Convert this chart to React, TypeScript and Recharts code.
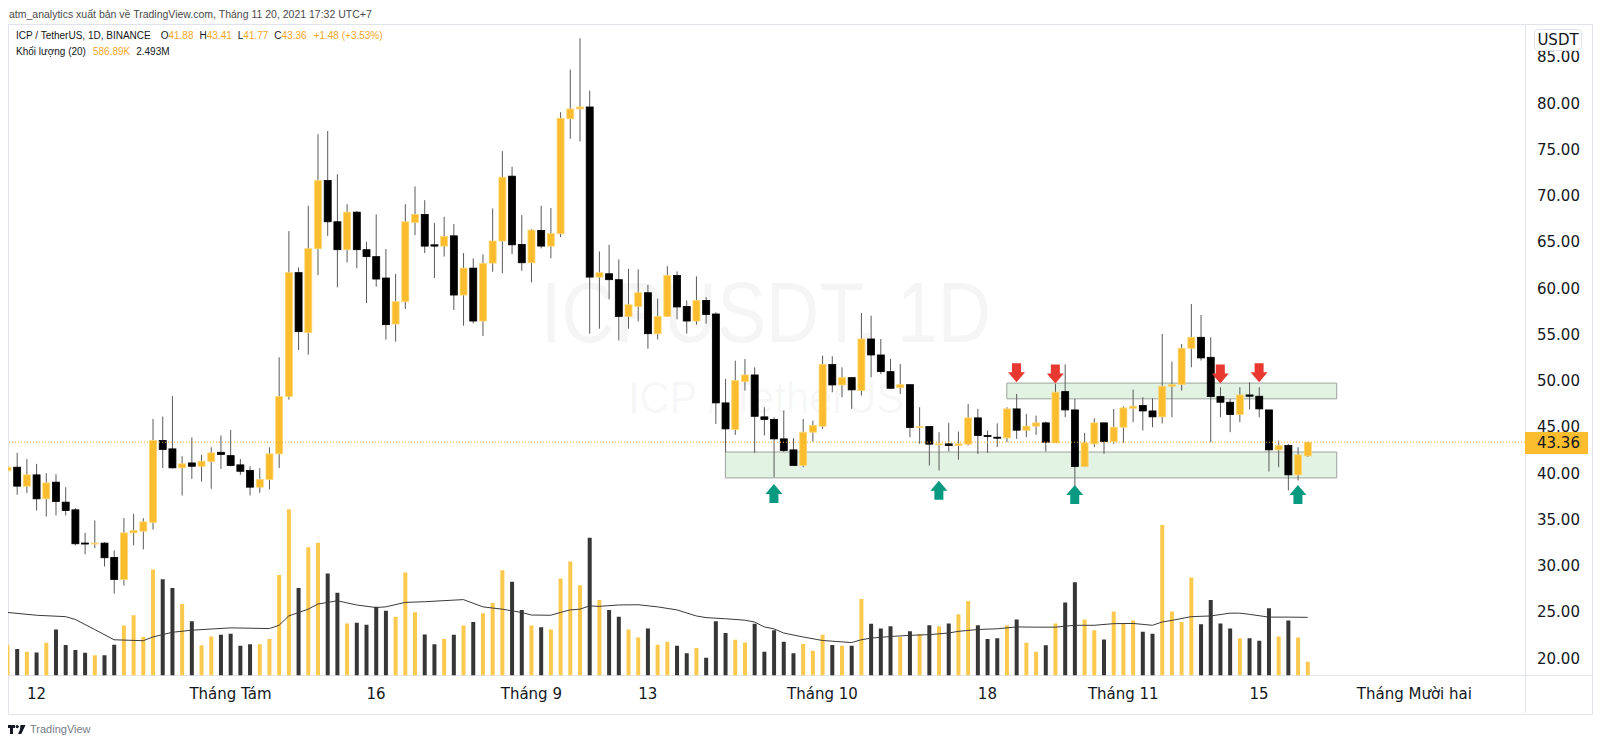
import React from 'react';
import { ComposedChart, Bar, Line, Scatter, XAxis, YAxis, ReferenceArea, ReferenceLine, Cell } from 'recharts';

// ICP / USDT daily candles, index 0 = 9 Jul 2021 ... index 134 = 20 Nov 2021
const opens = [
  40.27, 40.66, 38.61, 39.83, 37.24, 39.04, 36.88, 36.05, 32.46, 32.36,
  32.45, 30.9, 28.52, 33.56, 33.74, 34.7, 43.54, 42.64, 40.59, 41.12,
  40.76, 41.27, 42.27, 41.91, 40.91, 40.3, 38.5, 39.33, 42.1, 48.29,
  61.69, 55.2, 64.28, 71.65, 67.19, 64.17, 68.23, 64.17, 63.42, 61.11,
  56.14, 58.55, 67.12, 67.98, 64.7, 64.56, 65.67, 59.27, 62.18, 56.46,
  62.72, 65.11, 72.12, 64.74, 62.76, 66.26, 64.56, 65.89, 78.32, 79.39,
  79.6, 61.21, 61.57, 60.93, 56.96, 58.04, 59.52, 55.09, 56.96, 61.39,
  58.04, 56.46, 58.69, 57.22, 47.61, 44.73, 49.92, 50.63, 46.1, 45.81,
  43.72, 42.53, 40.84, 44.44, 45.09, 51.75, 49.55, 50.34, 48.94, 54.52,
  52.79, 50.99, 49.26, 49.58, 44.94, 45.05, 43.11, 43.18, 43.0, 43.15,
  45.99, 44.08, 43.9, 43.83, 46.96, 44.66, 45.09, 45.45, 43.29, 48.83,
  46.85, 40.73, 43.18, 45.45, 43.43, 44.98, 47.03, 47.32, 46.74, 46.1,
  49.41, 49.59, 53.51, 54.7, 52.54, 48.29, 47.68, 46.35, 48.47, 48.33,
  46.85, 42.53, 43.0, 39.83, 41.88,
];
const highs = [
  40.86, 42.21, 41.56, 41.02, 40.01, 39.9, 38.5, 36.23, 33.57, 34.9,
  32.56, 31.66, 35.15, 35.62, 35.15, 45.88, 46.13, 48.33, 41.85, 43.89,
  41.99, 42.81, 44.08, 44.69, 41.54, 40.76, 40.55, 42.81, 52.54, 66.18,
  62.25, 68.92, 76.66, 77.0, 72.33, 69.09, 68.34, 65.03, 67.98, 64.24,
  61.54, 69.09, 71.01, 69.53, 67.05, 67.72, 66.94, 63.81, 63.23, 63.66,
  68.63, 74.83, 73.13, 67.91, 66.39, 68.92, 68.68, 79.03, 83.64, 87.02,
  81.37, 63.98, 64.7, 63.12, 62.1, 62.04, 60.38, 58.87, 62.39, 61.82,
  58.69, 61.29, 59.05, 57.4, 50.2, 52.18, 52.36, 51.46, 47.14, 46.06,
  46.78, 43.79, 45.88, 45.7, 52.72, 52.65, 51.46, 50.34, 57.33, 57.04,
  54.52, 52.36, 51.82, 49.58, 47.14, 45.1, 44.44, 45.45, 44.51, 47.5,
  46.96, 44.62, 45.4, 47.14, 48.58, 46.42, 46.24, 45.59, 49.66, 51.78,
  48.04, 44.37, 45.95, 45.5, 46.96, 47.25, 49.05, 48.22, 48.11, 55.06,
  52.07, 53.98, 58.3, 57.11, 54.7, 49.3, 48.04, 49.3, 49.84, 49.3,
  46.85, 43.54, 43.18, 42.82, 43.41,
];
const lows = [
  40.08, 37.67, 37.85, 35.97, 35.33, 35.44, 35.44, 32.2, 31.23, 31.91,
  29.92, 26.98, 27.87, 32.2, 31.77, 33.92, 40.56, 40.52, 37.6, 39.39,
  39.1, 38.32, 40.47, 40.76, 39.83, 37.6, 37.89, 38.25, 40.56, 47.97,
  53.33, 52.83, 61.43, 65.67, 60.1, 62.8, 62.16, 58.4, 60.17, 54.45,
  54.23, 57.76, 65.75, 63.81, 61.11, 63.43, 57.65, 55.96, 56.2, 54.84,
  61.79, 61.62, 63.7, 61.9, 60.64, 64.31, 63.23, 65.53, 76.16, 75.86,
  55.09, 55.63, 58.8, 54.37, 55.63, 56.42, 53.47, 54.48, 56.89, 56.64,
  55.09, 56.06, 56.17, 45.34, 42.28, 44.15, 48.94, 42.21, 44.08, 39.58,
  42.28, 40.84, 40.66, 43.43, 44.8, 48.76, 48.21, 46.96, 48.4, 50.38,
  50.74, 49.12, 48.58, 43.9, 43.18, 40.84, 40.3, 42.35, 41.46, 43.0,
  42.1, 42.21, 42.85, 43.36, 43.72, 43.9, 44.15, 42.35, 43.29, 46.06,
  38.32, 40.66, 42.82, 42.1, 43.18, 43.29, 45.52, 44.62, 44.98, 45.38,
  46.06, 48.94, 51.46, 52.18, 43.36, 46.06, 44.44, 45.52, 46.89, 46.06,
  40.19, 40.66, 38.14, 39.22, 41.77,
];
const closes = [
  40.66, 38.61, 39.83, 37.24, 38.96, 36.95, 35.97, 32.38, 32.36, 32.46,
  30.87, 28.52, 33.56, 33.81, 34.75, 43.54, 42.57, 40.59, 41.02, 40.76,
  41.31, 42.21, 42.03, 40.84, 40.22, 38.5, 39.33, 42.1, 48.29, 61.69,
  55.31, 64.28, 71.65, 67.19, 64.17, 68.23, 64.17, 63.42, 61.0, 56.07,
  58.55, 67.19, 67.98, 64.56, 64.56, 65.6, 59.27, 62.18, 56.46, 62.69,
  65.11, 72.01, 64.7, 62.76, 66.29, 64.56, 65.9, 78.38, 79.39, 79.6,
  61.21, 61.68, 60.93, 56.96, 58.22, 59.52, 55.09, 56.96, 61.39, 57.98,
  56.46, 58.69, 57.17, 47.61, 44.8, 50.02, 50.63, 46.16, 45.81, 43.72,
  42.46, 40.84, 44.44, 45.16, 51.78, 49.55, 50.34, 49.02, 54.52, 52.79,
  50.99, 49.19, 49.58, 44.94, 45.05, 43.15, 43.18, 43.0, 43.18, 45.99,
  44.08, 43.98, 43.82, 46.96, 44.66, 45.09, 45.45, 43.36, 48.76, 46.85,
  40.73, 43.29, 45.45, 43.43, 44.98, 47.07, 47.25, 46.74, 46.1, 49.41,
  49.59, 53.51, 54.7, 52.47, 48.29, 47.68, 46.35, 48.47, 48.33, 46.96,
  42.53, 43.0, 39.83, 41.99, 43.36,
];
// volume in millions
const volumes = [
  1.31, 1.14, 1.02, 0.99, 1.4, 1.97, 1.31, 1.09, 0.97, 0.87,
  0.87, 1.32, 2.14, 2.58, 1.65, 4.54, 4.12, 3.75, 3.06, 2.32,
  1.3, 1.67, 1.75, 1.79, 1.27, 1.34, 1.34, 1.56, 4.3, 7.12,
  3.75, 5.49, 5.68, 4.37, 3.54, 2.23, 2.26, 2.17, 2.94, 2.77,
  2.52, 4.41, 2.71, 1.76, 1.34, 1.56, 1.75, 2.14, 2.29, 2.67,
  3.1, 4.51, 4.01, 2.81, 2.14, 2.07, 1.97, 4.15, 4.88, 3.86,
  5.9, 3.23, 2.81, 2.52, 1.97, 1.63, 2.01, 1.32, 1.44, 1.27,
  0.95, 1.18, 0.76, 2.32, 1.82, 1.53, 1.41, 2.22, 1.02, 1.94,
  1.44, 0.95, 1.35, 1.06, 1.75, 1.31, 1.27, 1.27, 3.28, 2.22,
  2.01, 2.11, 1.65, 1.89, 1.78, 2.15, 2.11, 2.23, 2.62, 3.19,
  2.15, 1.56, 1.59, 2.14, 2.4, 1.4, 1.02, 1.3, 2.23, 3.13,
  3.99, 2.4, 1.94, 1.54, 2.74, 2.23, 2.36, 1.87, 1.79, 6.44,
  2.74, 2.29, 4.2, 2.2, 3.23, 2.23, 2.01, 1.6, 1.59, 1.49,
  2.88, 1.67, 2.36, 1.63, 0.587,
];
// volume MA(20) line
const maIdx = [
  0, 3, 6, 7, 9, 11, 14, 15, 17, 19, 23, 27, 28, 29, 31, 32, 34, 36, 38, 39,
  41, 43, 47, 49, 51, 53, 54, 56, 57, 58, 59, 60, 61, 63, 65, 67, 69, 71, 72, 74,
  76, 77, 78, 79, 80, 82, 84, 85, 87, 88, 89, 91, 93, 95, 97, 98, 100, 102, 104, 106,
  108, 109, 110, 112, 114, 116, 118, 119, 120, 122, 124, 126, 127, 128, 130, 132, 134,
];
const maVal = [
  2.7, 2.58, 2.52, 2.4, 1.97, 1.53, 1.49, 1.65, 1.85, 1.94, 2.04, 2.01, 2.15, 2.55, 2.84, 3.06, 3.2, 3.02, 2.91, 2.94,
  3.13, 3.16, 3.25, 2.94, 2.84, 2.7, 2.59, 2.58, 2.7, 2.81, 2.84, 2.98, 2.96, 3.02, 3.03, 2.94, 2.81, 2.55, 2.48, 2.43,
  2.37, 2.29, 2.08, 2.0, 1.82, 1.65, 1.5, 1.47, 1.41, 1.53, 1.6, 1.67, 1.72, 1.75, 1.82, 1.89, 1.97, 2.0, 2.08, 2.07,
  2.07, 2.11, 2.15, 2.15, 2.22, 2.23, 2.15, 2.29, 2.36, 2.52, 2.55, 2.67, 2.67, 2.62, 2.5, 2.5, 2.49,
];

const tickIdx = [3, 23, 38, 54, 66, 84, 101, 115, 129, 145];
const tickLabels = ['12', 'Tháng Tám', '16', 'Tháng 9', '13', 'Tháng 10', '18', 'Tháng 11', '15', 'Tháng Mười hai'];
const priceTicks = [20, 25, 30, 35, 40, 45, 50, 55, 60, 65, 70, 75, 80, 85];

// drawings
const supportIdx = [79, 96, 110, 133];
const supportTip = [38.85, 39.2, 38.73, 38.73];
const resistIdx = [104, 108, 125, 129];
const resistTip = [49.85, 49.7, 49.7, 49.85];
const lowerZone = { x1: 74, x2: 137, y1: 39.5, y2: 42.3 };
const upperZone = { x1: 103, x2: 137, y1: 48.05, y2: 49.75 };
const lastPrice = 43.36;

const maAt = new Map(maIdx.map((x, k) => [x, maVal[k]]));
const candles = opens.map((o, i) => ({
  i,
  o,
  h: highs[i],
  l: lows[i],
  c: closes[i],
  v: volumes[i],
  range: [lows[i], highs[i]],
  ma: maAt.has(i) ? maAt.get(i) : null,
}));
const supportData = supportIdx.map((i, k) => ({ i, tip: supportTip[k] }));
const resistData = resistIdx.map((i, k) => ({ i, tip: resistTip[k] }));

const UP = '#fbbd2d';
const AXIS_FONT = 'DejaVu Sans';
const UI_FONT = 'Liberation Sans, Arial, sans-serif';
const X_DOMAIN = [0.07, 156.4];

const Candle = (props: any) => {
  const { x, y, width, height, payload } = props;
  if (!payload) return null;
  const { o, h, l, c } = payload;
  const up = c >= o;
  const span = h - l || 1;
  const toY = (p: number) => y + ((h - p) / span) * height;
  const top = toY(Math.max(o, c));
  const bot = toY(Math.min(o, c));
  const cx = x + width / 2;
  return (
    <g>
      <line x1={cx} x2={cx} y1={y} y2={y + height} stroke="#5a5a5a" strokeWidth={1} />
      <rect
        x={x + 0.5}
        y={top}
        width={width - 1}
        height={Math.max(bot - top, 1)}
        fill={up ? UP : '#000'}
        stroke={up ? '#fcd675' : '#000'}
        strokeWidth={0.8}
      />
    </g>
  );
};

const arrowPoints = (cx: number, cy: number, dir: number) =>
  [[0, 0], [8.5, 10], [4.5, 10], [4.5, 19], [-4.5, 19], [-4.5, 10], [-8.5, 10]]
    .map(([dx, dy]) => `${cx + dx},${cy + dir * dy}`)
    .join(' ');

const UpArrow = (props: any) => <polygon points={arrowPoints(props.cx, props.cy, 1)} fill="#089981" />;
const DownArrow = (props: any) => <polygon points={arrowPoints(props.cx, props.cy, -1)} fill="#e8382f" />;

const TvLogo = () => (
  <svg width={18} height={11} viewBox="0 0 18 11">
    <path d="M0 1h7v3H5v6H2V4H0z" fill="#131722" />
    <circle cx={9.2} cy={2.6} r={1.6} fill="#131722" />
    <path d="M12.5 1h5l-4.2 9h-3.2l1.8-4.3z" fill="#131722" />
  </svg>
);

const App: React.FC = () => {
  const orange = { color: '#f5a623' };
  return (
    <div style={{ position: 'absolute', left: 0, top: 0, width: 1600, height: 744, background: '#fff', overflow: 'hidden' }}>
      {/* watermark */}
      <svg width={1600} height={744} style={{ position: 'absolute', left: 0, top: 0 }}>
        <text x={766} y={342} textAnchor="middle" fontFamily={UI_FONT} fontSize={86} textLength={450} lengthAdjust="spacingAndGlyphs" fill="rgba(19,23,34,0.045)">
          ICPUSDT, 1D
        </text>
        <text x={766} y={413} textAnchor="middle" fontFamily={UI_FONT} fontSize={44} textLength={276} lengthAdjust="spacingAndGlyphs" fill="rgba(19,23,34,0.045)">
          ICP / TetherUS
        </text>
      </svg>

      {/* frame */}
      <div style={{ position: 'absolute', left: 8, top: 23.5, width: 1583, height: 689, border: '1px solid #e0e3eb' }} />
      <div style={{ position: 'absolute', left: 1525, top: 24, width: 1, height: 689, background: '#e0e3eb' }} />
      <div style={{ position: 'absolute', left: 8, top: 675, width: 1584, height: 1, background: '#e0e3eb' }} />

      <div style={{ position: 'absolute', left: 0, top: 0 }}>
        <ComposedChart width={1600} height={744} data={candles} margin={{ top: 24, right: 8, bottom: 30.5, left: 8 }}>
          <XAxis
            xAxisId="p"
            dataKey="i"
            type="number"
            domain={X_DOMAIN}
            allowDataOverflow
            ticks={tickIdx}
            interval={0}
            tickFormatter={(v) => tickLabels[tickIdx.indexOf(v)]}
            axisLine={false}
            tickLine={false}
            tickMargin={7}
            height={38}
            tick={{ fill: '#131722', fontSize: 15, fontFamily: AXIS_FONT }}
          />
          <XAxis xAxisId="v" dataKey="i" type="number" domain={X_DOMAIN} allowDataOverflow hide />
          <YAxis
            yAxisId="p"
            orientation="right"
            width={67}
            domain={[18.14, 88.57]}
            allowDataOverflow
            ticks={priceTicks}
            interval={0}
            tickFormatter={(v) => Number(v).toFixed(2)}
            axisLine={false}
            tickLine={false}
            tickMargin={6}
            tick={{ fill: '#131722', fontSize: 15, fontFamily: AXIS_FONT }}
          />
          <YAxis yAxisId="v" domain={[0, 27.9]} allowDataOverflow hide />

          <ReferenceArea
            xAxisId="p"
            yAxisId="p"
            x1={lowerZone.x1}
            x2={lowerZone.x2}
            y1={lowerZone.y1}
            y2={lowerZone.y2}
            fill="#4caf50"
            fillOpacity={0.16}
            stroke="#9ea39e"
            strokeWidth={1}
          />
          <ReferenceArea
            xAxisId="p"
            yAxisId="p"
            x1={upperZone.x1}
            x2={upperZone.x2}
            y1={upperZone.y1}
            y2={upperZone.y2}
            fill="#4caf50"
            fillOpacity={0.16}
            stroke="#9ea39e"
            strokeWidth={1}
          />

          <Bar xAxisId="v" yAxisId="v" dataKey="v" barSize={4} isAnimationActive={false}>
            {candles.map((d) => (
              <Cell key={`vol-${d.i}`} fill={d.c >= d.o ? '#fcc94f' : '#363636'} />
            ))}
          </Bar>
          <Line
            xAxisId="v"
            yAxisId="v"
            dataKey="ma"
            type="linear"
            stroke="#3a3a3a"
            strokeWidth={1}
            dot={false}
            connectNulls
            isAnimationActive={false}
          />

          <Bar xAxisId="p" yAxisId="p" dataKey="range" barSize={8} shape={<Candle />} isAnimationActive={false} />

          <ReferenceLine xAxisId="p" yAxisId="p" y={lastPrice} stroke="#f9a825" strokeDasharray="1 2" strokeWidth={1} />

          <Scatter xAxisId="p" yAxisId="p" data={supportData} dataKey="tip" shape={<UpArrow />} isAnimationActive={false} />
          <Scatter xAxisId="p" yAxisId="p" data={resistData} dataKey="tip" shape={<DownArrow />} isAnimationActive={false} />
        </ComposedChart>
      </div>

      {/* header + legend */}
      <div style={{ position: 'absolute', left: 9, top: 8, fontFamily: UI_FONT, fontSize: 10.5, lineHeight: '12px', color: '#4a4a4a', whiteSpace: 'nowrap' }}>
        atm_analytics xuất bản về TradingView.com, Tháng 11 20, 2021 17:32 UTC+7
      </div>
      <div style={{ position: 'absolute', left: 16, top: 30, fontFamily: UI_FONT, fontSize: 10, lineHeight: '12px', color: '#131722', whiteSpace: 'nowrap' }}>
        <span>ICP / TetherUS, 1D, BINANCE</span>
        <span style={{ marginLeft: 10 }}>O<span style={orange}>41.88</span></span>
        <span style={{ marginLeft: 6 }}>H<span style={orange}>43.41</span></span>
        <span style={{ marginLeft: 6 }}>L<span style={orange}>41.77</span></span>
        <span style={{ marginLeft: 6 }}>C<span style={orange}>43.36</span></span>
        <span style={{ marginLeft: 7, ...orange }}>+1.48 (+3.53%)</span>
      </div>
      <div style={{ position: 'absolute', left: 16, top: 45.5, fontFamily: UI_FONT, fontSize: 10, lineHeight: '12px', color: '#131722', whiteSpace: 'nowrap' }}>
        <span>Khối lượng (20)</span>
        <span style={{ marginLeft: 7, ...orange }}>586.89K</span>
        <span style={{ marginLeft: 6 }}>2.493M</span>
      </div>

      {/* price scale extras */}
      <div
        style={{
          position: 'absolute',
          left: 1534,
          top: 29,
          width: 46,
          height: 20,
          border: '1px solid #e0e3eb',
          borderRadius: 4,
          background: '#fff',
          fontFamily: AXIS_FONT,
          fontSize: 15,
          lineHeight: '20px',
          textAlign: 'center',
          color: '#131722',
        }}
      >
        USDT
      </div>
      <div
        style={{
          position: 'absolute',
          left: 1525,
          top: 432,
          width: 63,
          height: 22,
          background: UP,
          fontFamily: AXIS_FONT,
          fontSize: 15,
          lineHeight: '22px',
          paddingLeft: 12,
          boxSizing: 'border-box',
          color: '#131722',
        }}
      >
        43.36
      </div>

      {/* footer */}
      <div style={{ position: 'absolute', left: 8, top: 723, display: 'flex', alignItems: 'center', gap: 4 }}>
        <TvLogo />
        <span style={{ fontFamily: UI_FONT, fontSize: 11, color: '#787b86' }}>TradingView</span>
      </div>
    </div>
  );
};

export default App;
